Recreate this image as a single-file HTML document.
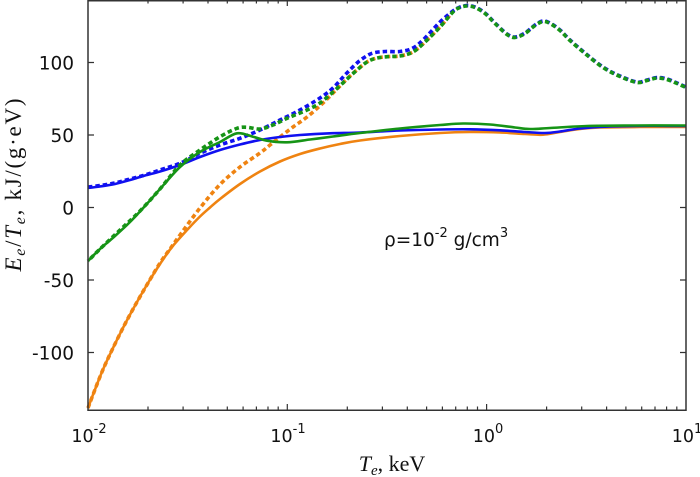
<!DOCTYPE html>
<html>
<head>
<meta charset="utf-8">
<style>
html,body{margin:0;padding:0;background:#fff;}
svg{display:block;}
</style>
</head>
<body>
<svg id="chart" width="700" height="477" viewBox="0 0 700 477" xmlns="http://www.w3.org/2000/svg">
<rect width="700" height="477" fill="#fff"/>

<!-- curves -->
<g fill="none" stroke-linejoin="round" stroke-linecap="butt">
  <!-- orange solid -->
  <polyline class="sm" stroke="#ef8311" stroke-width="2.6" points="88,408 95,389.5 103,369.5 113,348 125,324 137,302 148,283 160,264 172,247 188,229 200,216.5 210,207.5 220,199 240,184 260,171.5 280,161.5 300,154 320,148.5 340,144 360,140.5 400,136 440,133 470,132 500,132.5 525,134 543,134.7 560,132 580,129 600,127.5 640,127 686,127"/>
  <!-- orange dashed -->
  <polyline class="sm" stroke="#ef8311" stroke-width="3.6" stroke-dasharray="4.5 3" points="88,408 95,389.5 103,369.5 113,348 125,324 137,302 148,283 160,263 170,249 180,235 200,208 220,184.5 240,167 260,153 270,145 280,137 293,127 307,117 323,103 340,86 350,76 357,70 367,62 377,58 390,56.5 400,56 413,52 425,42 440,27 450,15"/>
  <!-- blue solid -->
  <polyline class="sm" stroke="#1010f0" stroke-width="2.6" points="88,188 100,186.5 115,184 130,180 145,175.5 160,171.5 180,165 200,157 220,150 240,144.5 260,140 280,137 300,135 330,133.3 360,132.5 400,130.5 440,129.5 470,129.3 500,130.3 525,132 545,133 560,131.5 580,128.5 610,126.5 650,125.8 686,126"/>
  <!-- blue dashed -->
  <polyline class="sm" stroke="#1010f0" stroke-width="3.6" stroke-dasharray="4.5 3" points="88,187 100,185.5 115,183 130,179 145,175 160,170 180,163.3 200,153.3 220,145 240,138.3 260,130 280,120 300,110 320,98 333,88 345,75 357,63 365,57 373,53 385,51.5 400,51.5 413,48 425,38 440,22 453,11 460,7 467,5.5 475,7 485,13 495,23 507,34 515,37 525,33 535,25 543,21 550,23 560,30 570,40 585,53 603,67 620,76 637,82 647,80 657,77.5 667,79 677,83 686,87"/>
  <!-- green solid -->
  <polyline class="sm" stroke="#169416" stroke-width="2.6" points="88,261 100,249 115,236 130,222 145,206 160,189 180,167 200,152 220,142 237,133.3 253,136.7 267,140.7 287,142.3 310,139.5 333,136.5 360,133 400,128.5 440,125 463,123.5 490,124.5 515,127.5 530,129 550,128 587,126 630,125.5 686,125.5"/>
  <!-- green dashed -->
  <polyline class="sm" stroke="#169416" stroke-width="3.6" stroke-dasharray="4.5 3" stroke-dashoffset="4" points="88,261 100,249 120,230 140,211 160,189 180,165 200,150 220,136.7 237,128.3 247,127.3 260,129 273,125 287,118.3 307,110 320,103 333,92 345,81 357,70 367,62 377,58 390,56.5 400,56 413,52 425,42 440,27 453,12 460,7.5 467,6 475,7.5 485,13.5 495,23.5 507,34.5 515,37.5 525,33.5 535,25.5 543,21.5 550,23.5 560,30.5 570,40.5 585,53.5 603,67.5 620,76.5 637,82.5 647,80.5 657,78 667,79.5 677,83.5 686,87.5"/>
</g>

<!-- frame -->
<rect x="88" y="0.75" width="598" height="409.5" fill="none" stroke="#333" stroke-width="1.5"/>

<!-- ticks -->
<g stroke="#333" stroke-width="1.2">
  <path d="M287.3,410 v-6 M486.6,410 v-6 M287.3,0 v6 M486.6,0 v6"/>
  <path d="M148,410 v-3.5 M183.1,410 v-3.5 M208,410 v-3.5 M227.3,410 v-3.5 M243.1,410 v-3.5 M256.4,410 v-3.5 M268,410 v-3.5 M278.2,410 v-3.5
           M347.3,410 v-3.5 M382.4,410 v-3.5 M407.3,410 v-3.5 M426.6,410 v-3.5 M442.4,410 v-3.5 M455.7,410 v-3.5 M467.3,410 v-3.5 M477.5,410 v-3.5
           M546.6,410 v-3.5 M581.7,410 v-3.5 M606.6,410 v-3.5 M625.9,410 v-3.5 M641.7,410 v-3.5 M655,410 v-3.5 M666.6,410 v-3.5 M676.8,410 v-3.5"/>
  <path d="M148,0 v3.5 M183.1,0 v3.5 M208,0 v3.5 M227.3,0 v3.5 M243.1,0 v3.5 M256.4,0 v3.5 M268,0 v3.5 M278.2,0 v3.5
           M347.3,0 v3.5 M382.4,0 v3.5 M407.3,0 v3.5 M426.6,0 v3.5 M442.4,0 v3.5 M455.7,0 v3.5 M467.3,0 v3.5 M477.5,0 v3.5
           M546.6,0 v3.5 M581.7,0 v3.5 M606.6,0 v3.5 M625.9,0 v3.5 M641.7,0 v3.5 M655,0 v3.5 M666.6,0 v3.5 M676.8,0 v3.5"/>
  <path d="M88,62.5 h6 M88,135 h6 M88,207.5 h6 M88,280 h6 M88,352.5 h6
           M686,62.5 h-6 M686,135 h-6 M686,207.5 h-6 M686,280 h-6 M686,352.5 h-6"/>
</g>

<!-- y tick labels -->
<g font-family="'DejaVu Sans', 'Liberation Sans', sans-serif" font-size="18.5" fill="#111" text-anchor="end">
  <text x="74" y="69.5">100</text>
  <text x="74" y="142">50</text>
  <text x="74" y="214.5">0</text>
  <text x="74" y="287">-50</text>
  <text x="74" y="359.5">-100</text>
</g>

<!-- x tick labels -->
<g font-family="'DejaVu Sans', 'Liberation Sans', sans-serif" font-size="17.5" fill="#111" text-anchor="middle">
  <text x="89" y="442">10<tspan font-size="13" dy="-9">-2</tspan></text>
  <text x="288" y="442">10<tspan font-size="13" dy="-9">-1</tspan></text>
  <text x="488" y="442">10<tspan font-size="13" dy="-9">0</tspan></text>
  <text x="687" y="442">10<tspan font-size="13" dy="-9">1</tspan></text>
</g>

<!-- annotation -->
<text x="384" y="246" font-family="'DejaVu Sans', 'Liberation Sans', sans-serif" font-size="18.5" fill="#111">ρ=10<tspan font-size="13" dy="-9">-2</tspan><tspan dy="9"> g/cm</tspan><tspan font-size="13" dy="-9">3</tspan></text>

<!-- axis titles -->
<text x="392" y="471" text-anchor="middle" font-family="'Liberation Serif', serif" font-size="22" fill="#111"><tspan font-style="italic">T</tspan><tspan font-style="italic" font-size="15" dy="4">e</tspan><tspan dy="-4">, keV</tspan></text>

<text transform="translate(21,185) rotate(-90)" text-anchor="middle" font-family="'Liberation Serif', serif" font-size="23" fill="#111" textLength="173" lengthAdjust="spacing"><tspan font-style="italic">E</tspan><tspan font-style="italic" font-size="16" dy="4">e</tspan><tspan dy="-4">/</tspan><tspan font-style="italic">T</tspan><tspan font-style="italic" font-size="16" dy="4">e</tspan><tspan dy="-4">, kJ/(g·eV)</tspan></text>
</svg>
<script>
(function(){
  var NS="http://www.w3.org/2000/svg";
  var pls=document.querySelectorAll("polyline.sm");
  for(var i=0;i<pls.length;i++){
    var pl=pls[i];
    var raw=pl.getAttribute("points").trim().split(/\s+/);
    var p=[];
    for(var j=0;j<raw.length;j++){var c=raw[j].split(",");p.push([+c[0],+c[1]]);}
    var d="M"+p[0][0]+","+p[0][1];
    for(var k=0;k<p.length-1;k++){
      var p0=p[k-1]||p[k],p1=p[k],p2=p[k+1],p3=p[k+2]||p[k+1];
      var c1x=p1[0]+(p2[0]-p0[0])/6,c1y=p1[1]+(p2[1]-p0[1])/6;
      var c2x=p2[0]-(p3[0]-p1[0])/6,c2y=p2[1]-(p3[1]-p1[1])/6;
      d+=" C"+c1x.toFixed(2)+","+c1y.toFixed(2)+" "+c2x.toFixed(2)+","+c2y.toFixed(2)+" "+p2[0]+","+p2[1];
    }
    var path=document.createElementNS(NS,"path");
    for(var a=0;a<pl.attributes.length;a++){
      var at=pl.attributes[a];
      if(at.name!=="points"&&at.name!=="class")path.setAttribute(at.name,at.value);
    }
    path.setAttribute("d",d);
    pl.parentNode.replaceChild(path,pl);
  }
})();
</script>
</body>
</html>
